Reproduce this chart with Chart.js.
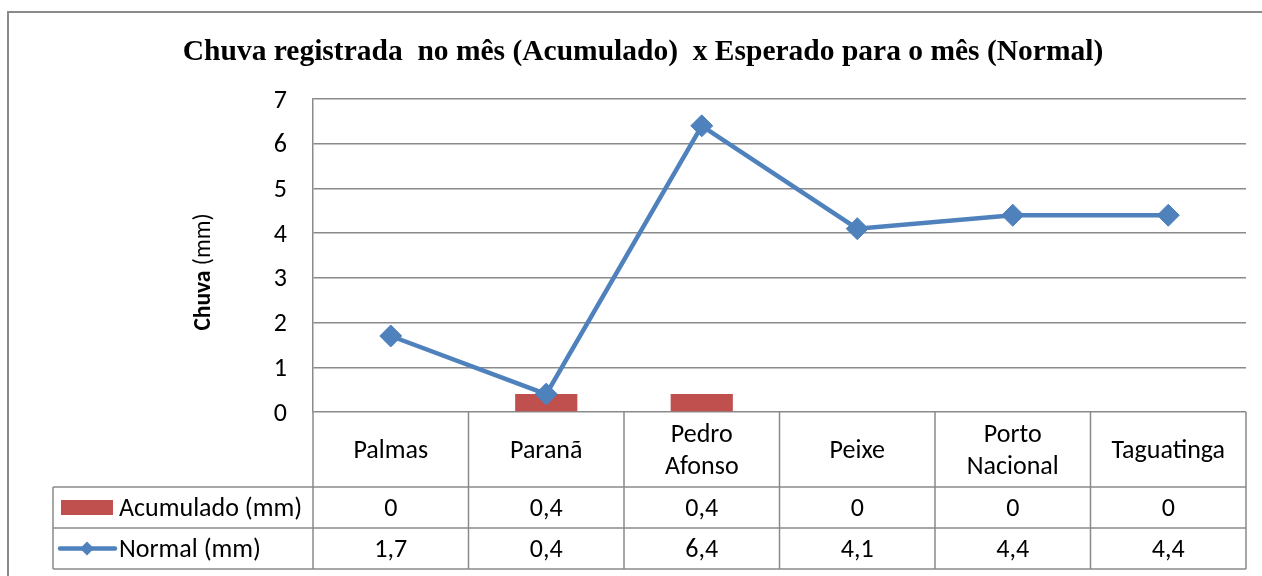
<!DOCTYPE html>
<html>
<head>
<meta charset="utf-8">
<script src="https://cdn.jsdelivr.net/npm/chart.js@4.4.1/dist/chart.umd.min.js"></script>
<style>
  html, body { margin: 0; padding: 0; background: #fff; overflow: hidden; }
  #wrap { width: 1262px; height: 576px; position: relative; }
</style>
</head>
<body>
<div id="wrap"><canvas id="chuvaChart"></canvas></div>
<script>
// dados
const categories = [['Palmas'], ['Paranã'], ['Pedro', 'Afonso'], ['Peixe'], ['Porto', 'Nacional'], ['Taguatinga']];
const acumulado = [0, 0.4, 0.4, 0, 0, 0];
const normal = [1.7, 0.4, 6.4, 4.1, 4.4, 4.4];
const yTicks = [0, 1, 2, 3, 4, 5, 6, 7];

const seriesNames = ['Acumulado (mm)', 'Normal (mm)'];
const chartTitle = 'Chuva registrada  no mês (Acumulado)  x Esperado para o mês (Normal)';

const RED = '#C0504D';
const BLUE = '#4F81BD';
const GRID = '#8a8a8a';
const FONT = 'Carlito, Lato, sans-serif';
const TXT = 26;

function fmt(v) {
    return String(v).replace('.', ',');
}

// titulo, titulo do eixo y, moldura e tabela de dados
const tablePlugin = {
    id: 'tablePlugin',
    beforeDraw(chart) {
        const ctx = chart.ctx;
        ctx.save();
        ctx.strokeStyle = GRID;
        ctx.lineWidth = 2;
        ctx.strokeRect(8, 12, 1400, 700);
        ctx.restore();
    },
    afterDraw(chart) {
        const ctx = chart.ctx;
        const area = chart.chartArea;
        const xs = chart.scales.x;
        const n = categories.length;
        const colW = (area.right - area.left) / n;
        const rowCat = area.bottom + 75;
        const row1 = rowCat + 41;
        const row2 = row1 + 41;
        const keyLeft = 53;
        const dy = 2;

        ctx.save();
        // titulo
        ctx.fillStyle = '#000';
        ctx.font = 'bold 29.5px "Liberation Serif", "Times New Roman", serif';
        ctx.textAlign = 'center';
        ctx.textBaseline = 'middle';
        ctx.fillText(chartTitle, 643, 52);

        // titulo do eixo y: "Chuva" negrito + " (mm)"
        ctx.translate(204, 272);
        ctx.rotate(-Math.PI / 2);
        ctx.font = 'bold 23.5px ' + FONT;
        const w1 = ctx.measureText('Chuva').width;
        ctx.font = '23.5px ' + FONT;
        const w2 = ctx.measureText(' (mm)').width;
        ctx.textAlign = 'left';
        ctx.font = 'bold 23.5px ' + FONT;
        ctx.fillText('Chuva', -(w1 + w2) / 2, 0);
        ctx.font = '23.5px ' + FONT;
        ctx.fillText(' (mm)', -(w1 + w2) / 2 + w1, 0);
        ctx.restore();

        ctx.save();
        ctx.strokeStyle = GRID;
        ctx.lineWidth = 1.5;
        ctx.beginPath();
        for (let i = 0; i <= n; i++) {
            const x = area.left + i * colW;
            ctx.moveTo(x, area.bottom);
            ctx.lineTo(x, row2);
        }
        ctx.moveTo(keyLeft, rowCat);
        ctx.lineTo(keyLeft, row2);
        [rowCat, row1, row2].forEach(y => {
            ctx.moveTo(keyLeft, y);
            ctx.lineTo(area.right, y);
        });
        ctx.stroke();

        ctx.fillStyle = '#000';
        ctx.font = TXT + 'px ' + FONT;
        ctx.textAlign = 'center';
        ctx.textBaseline = 'middle';
        categories.forEach((lines, i) => {
            const cx = xs.getPixelForValue(i);
            const cy = (area.bottom + rowCat) / 2 + dy;
            const lh = 32;
            lines.forEach((t, j) => {
                ctx.fillText(t, cx, cy + (j - (lines.length - 1) / 2) * lh);
            });
            ctx.fillText(fmt(acumulado[i]), cx, (rowCat + row1) / 2 + dy);
            ctx.fillText(fmt(normal[i]), cx, (row1 + row2) / 2 + dy);
        });

        // chaves da legenda
        const y1 = (rowCat + row1) / 2;
        const y2 = (row1 + row2) / 2;
        ctx.fillStyle = RED;
        ctx.fillRect(61, y1 - 7.5, 52, 15);
        ctx.strokeStyle = BLUE;
        ctx.lineWidth = 4.5;
        ctx.lineCap = 'round';
        ctx.beginPath();
        ctx.moveTo(60, y2);
        ctx.lineTo(115, y2);
        ctx.stroke();
        ctx.fillStyle = BLUE;
        ctx.beginPath();
        ctx.moveTo(87, y2 - 7);
        ctx.lineTo(94, y2);
        ctx.lineTo(87, y2 + 7);
        ctx.lineTo(80, y2);
        ctx.closePath();
        ctx.fill();

        ctx.fillStyle = '#000';
        ctx.textAlign = 'left';
        ctx.fillText(seriesNames[0], 119, y1 + dy);
        ctx.fillText(seriesNames[1], 119, y2 + dy);
        ctx.restore();
    }
};

const chuvaChart = new Chart(document.getElementById('chuvaChart'), {
    type: 'bar',
    data: {
        labels: categories,
        datasets: [
            {
                type: 'line',
                label: seriesNames[1],
                data: normal,
                borderColor: BLUE,
                backgroundColor: BLUE,
                borderWidth: 4.5,
                pointStyle: 'rectRot',
                pointRadius: 11,
                pointBorderWidth: 1,
                tension: 0,
                order: 0
            },
            {
                type: 'bar',
                label: seriesNames[0],
                data: acumulado,
                backgroundColor: RED,
                barPercentage: 0.4,
                categoryPercentage: 1,
                order: 1
            }
        ]
    },
    options: {
        responsive: true,
        maintainAspectRatio: false,
        animation: false,
        layout: { padding: { left: 0, right: 16, top: 99, bottom: 164 } },
        plugins: {
            legend: { display: false },
            title: { display: false },
            tooltip: { enabled: false }
        },
        scales: {
            x: { display: false },
            y: {
                min: 0,
                max: 7,
                afterFit: scale => { scale.width = 313; },
                afterBuildTicks: scale => { scale.ticks = yTicks.map(v => ({ value: v })); },
                border: { color: GRID, width: 1.5 },
                grid: { color: GRID, lineWidth: 1.5, drawTicks: false },
                ticks: {
                    color: '#000',
                    padding: 26,
                    labelOffset: 2,
                    font: { family: FONT, size: TXT }
                }
            }
        }
    },
    plugins: [tablePlugin]
});
</script>
</body>
</html>
